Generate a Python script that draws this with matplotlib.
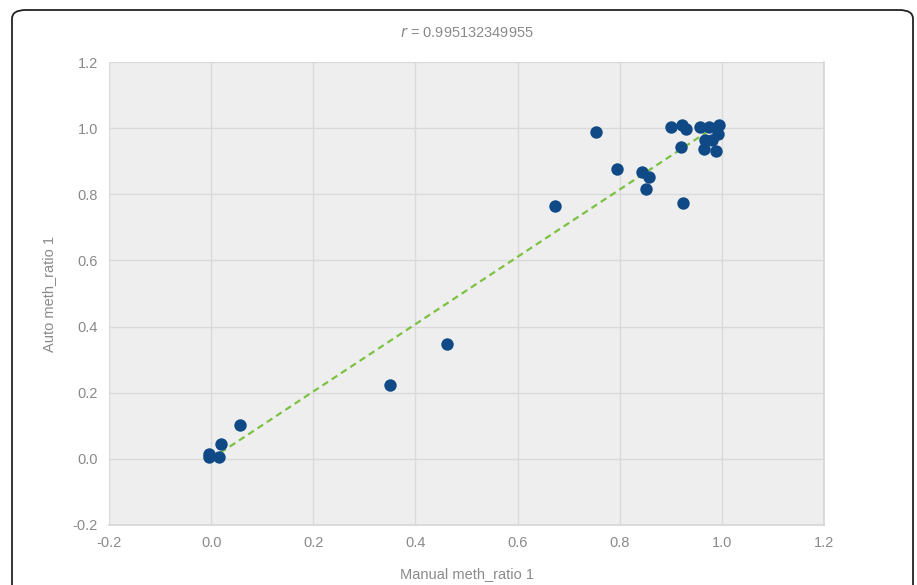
import numpy as np
import matplotlib
matplotlib.use("Agg")
import matplotlib.pyplot as plt
from matplotlib.patches import FancyBboxPatch

manual = [0.900, 0.921, 0.929, 0.957, 0.975, 0.994, 0.993, 0.967, 0.980, 0.965,
          0.988, 0.920, 0.843, 0.857, 0.851, 0.924, 0.794, 0.753, 0.673, 0.462,
          0.350, 0.057, 0.020, -0.005, -0.004, 0.016]
auto = [1.004, 1.009, 0.996, 1.004, 1.004, 1.009, 0.982, 0.964, 0.964, 0.937,
        0.931, 0.942, 0.868, 0.851, 0.816, 0.774, 0.876, 0.988, 0.764, 0.347,
        0.224, 0.103, 0.045, 0.016, 0.005, 0.005]
ticks = [-0.2, 0.0, 0.2, 0.4, 0.6, 0.8, 1.0, 1.2]
title_r = "0.995132349955"

plt.rcParams['font.family'] = ['Liberation Sans', 'DejaVu Sans']
fig = plt.figure(figsize=(9.17, 5.85), dpi=100)
fig.patches.append(FancyBboxPatch((12/917, -0.05), (913-12)/917, 1 - 10/585 + 0.05,
                                  boxstyle="round,pad=0,rounding_size=0.015",
                                  transform=fig.transFigure, facecolor='white',
                                  edgecolor='#222222', linewidth=1.3, zorder=-1))
ax = fig.add_axes([109/917, 1-525/585, (824-109)/917, (525-62)/585])
ax.set_facecolor('#eeeeee')
ax.set_xlim(-0.2, 1.2)
ax.set_ylim(-0.2, 1.2)
ax.set_xticks(ticks)
ax.set_yticks(ticks)
ax.set_xticklabels([f"{t:.1f}" for t in ticks])
ax.set_yticklabels([f"{t:.1f}" for t in ticks])
ax.grid(True, color='#dadada', linewidth=1)
ax.set_axisbelow(True)
for s in ['top', 'left']:
    ax.spines[s].set_visible(False)
for s in ['right', 'bottom']:
    ax.spines[s].set_color('#d6d6d6')
    ax.spines[s].set_linewidth(1.2)
txtc = '#8a8a8a'
ax.tick_params(length=0, labelsize=10.5, labelcolor=txtc, pad=8)

x = np.array(manual)
y = np.array(auto)
slope = np.sum(x * y) / np.sum(x * x)
xs = np.array([0.0, x.max()])
ax.plot(xs, slope * xs, linestyle='--', color='#7cc242', linewidth=1.6, zorder=3,
        dashes=(3, 2))
ax.scatter(x, y, s=80, color='#0f4a86', zorder=4, linewidths=0)

ax.set_xlabel("Manual meth_ratio 1", color=txtc, fontsize=10.5, labelpad=12)
ax.set_ylabel("Auto meth_ratio 1", color=txtc, fontsize=10.5, labelpad=12)
fig.text((109+824)/2/917, 1-33/585, r"$r$ = " + title_r, ha='center', va='center',
         color=txtc, fontsize=10.5)
fig.savefig("out.png", dpi=100)
